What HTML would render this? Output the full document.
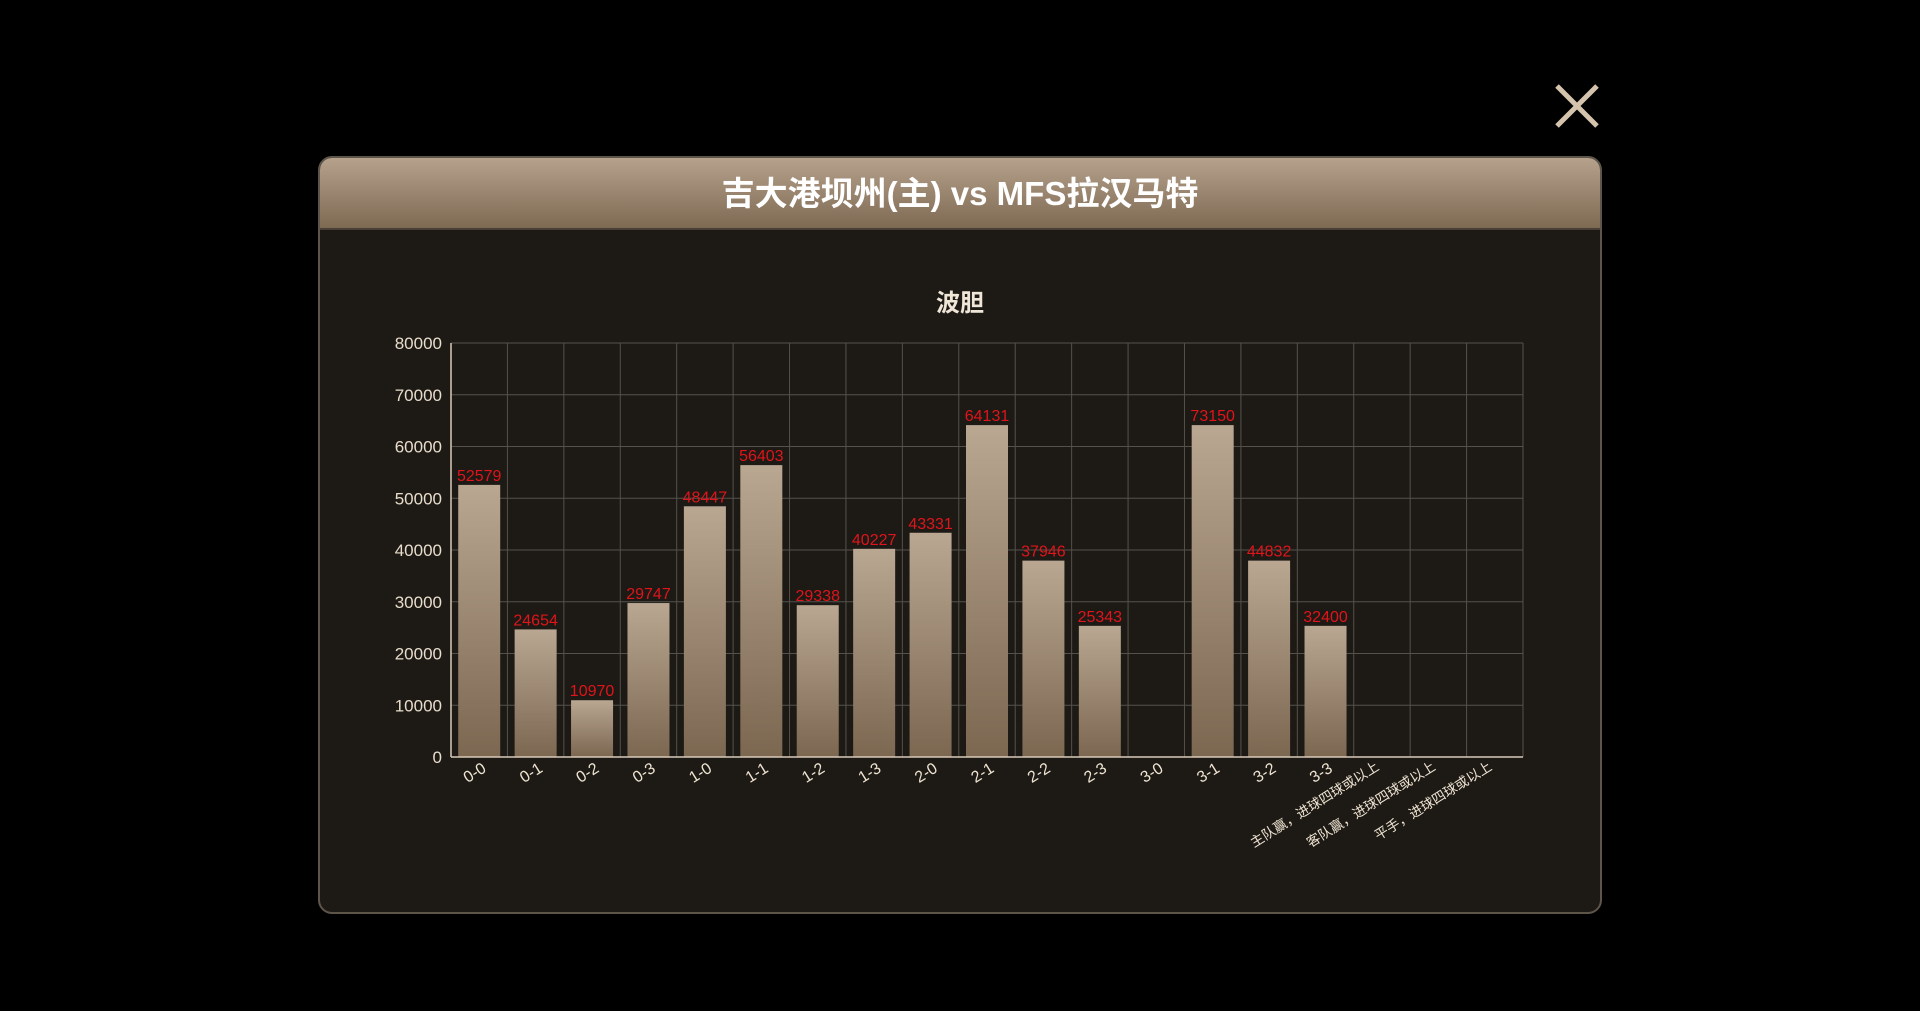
<!DOCTYPE html>
<html><head><meta charset="utf-8"><style>
body{margin:0;background:#000;width:1920px;height:1011px;overflow:hidden;font-family:"Liberation Sans","Noto Sans CJK SC",sans-serif;}
#panel{position:absolute;left:318px;top:156px;width:1280px;height:754px;border:2px solid #5e554a;border-radius:14px;background:#1d1a16;overflow:hidden;}
#hdr{height:70px;background:linear-gradient(#b6a28c,#7e6953);color:#fff;font-weight:bold;font-size:33px;text-align:center;line-height:72px;border-bottom:2px solid #4a4036;}
#close{position:absolute;left:1553px;top:82px;width:48px;height:48px;}
svg text{font-family:"Liberation Sans","Noto Sans CJK SC",sans-serif;}
</style></head><body>
<svg id="close" viewBox="0 0 48 48"><path d="M4 4L44 44M44 4L4 44" stroke="#d4c3ad" stroke-width="5"/></svg>
<div id="panel">
<div id="hdr">吉大港坝州(主) vs MFS拉汉马特</div>
</div>
<svg id="chart" width="1920" height="1011" style="position:absolute;left:0;top:0">
<defs><linearGradient id="bg" x1="0" y1="0" x2="0" y2="1"><stop offset="0" stop-color="#b9a792"/><stop offset="1" stop-color="#7c6751"/></linearGradient></defs>
</svg>
<script>
const categories=["0-0","0-1","0-2","0-3","1-0","1-1","1-2","1-3","2-0","2-1","2-2","2-3","3-0","3-1","3-2","3-3","主队赢，进球四球或以上","客队赢，进球四球或以上","平手，进球四球或以上"];
const values=[52579,24654,10970,29747,48447,56403,29338,40227,43331,64131,37946,25343,null,64131,37946,25343,null,null,null];
const valueLabels=["52579","24654","10970","29747","48447","56403","29338","40227","43331","64131","37946","25343","","73150","44832","32400","","",""];
const yTicks=[0,10000,20000,30000,40000,50000,60000,70000,80000];
const svg=document.getElementById('chart');const NS='http://www.w3.org/2000/svg';
const L=451,R=1523,T=343,B=757,yMax=80000;
const x=i=>L+(R-L)/categories.length*i;const cw=(R-L)/categories.length;
const y=v=>B-(B-T)*v/yMax;
function mk(t,a,p){const e=document.createElementNS(NS,t);for(const k in a)e.setAttribute(k,a[k]);(p||svg).appendChild(e);return e;}
const ct=mk('text',{x:960,y:311,fill:'#f0e6d8','font-size':24,'font-weight':'bold','text-anchor':'middle'});ct.textContent='波胆';


yTicks.forEach(v=>{const g=mk('line',{x1:L,x2:R,y1:y(v),y2:y(v),stroke:'#55504a','stroke-width':1});


const t=mk('text',{x:L-9,y:y(v)+6,fill:'#e8dccb','font-size':17,'text-anchor':'end'});t.textContent=v;

});
for(let i=1;i<=categories.length;i++){const g=mk('line',{x1:x(i),x2:x(i),y1:T,y2:B,stroke:'#55504a','stroke-width':1});

}
const ya=mk('line',{x1:L,x2:L,y1:T,y2:B,stroke:'#d8cab8','stroke-width':1.5});


const bw=42;
categories.forEach((c,i)=>{const cx=x(i)+cw/2;
if(values[i]!=null){const r=mk('rect',{x:cx-bw/2,y:y(values[i]),width:bw,height:B-y(values[i]),fill:'url(#bg)'});

}
if(valueLabels[i]){const t=mk('text',{x:cx,y:y(values[i])-4,fill:'#e0141a','font-size':16,'text-anchor':'middle'});t.textContent=valueLabels[i];

}
const lx=c.length>3?cx-2:cx+8, ly=c.length>3?B+12:B+14;
const t=mk('text',{x:lx,y:ly,fill:'#efe4d2','font-size':c.length>3?13.5:16,'text-anchor':'end',transform:`rotate(-32 ${lx} ${ly})`});t.textContent=c;

});
const xa=mk('line',{x1:L,x2:R,y1:B,y2:B,stroke:'#d8cab8','stroke-width':1.5});


</script>
</body></html>
